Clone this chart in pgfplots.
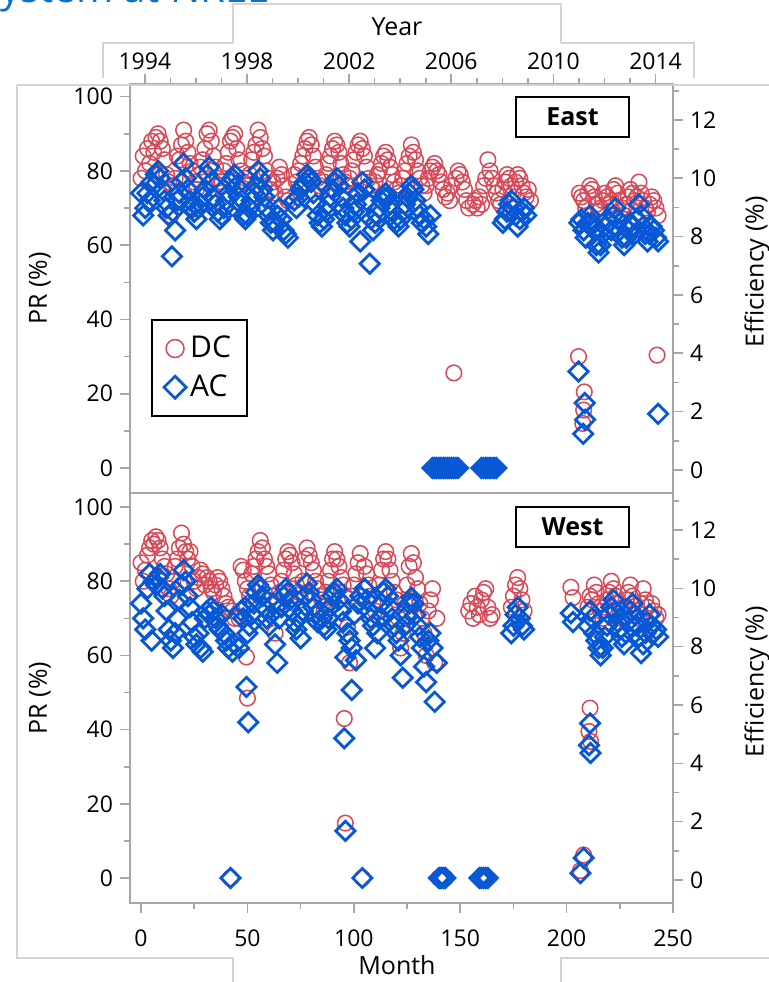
\documentclass[border=0pt]{standalone}
\usepackage{fontspec}
\setmainfont{Open Sans}
\usepackage{pgfplots}
\pgfplotsset{compat=1.18}
\definecolor{dccol}{RGB}{217,72,86}
\definecolor{accol}{RGB}{8,88,214}
\definecolor{framecol}{RGB}{166,166,166}
\definecolor{boxcol}{RGB}{212,212,212}
\definecolor{titlecol}{RGB}{16,114,196}
\pgfplotsset{
  base/.style={
    scale only axis, width=271.5pt,
    xmin=-5.2, xmax=250,
    axis line style={draw=framecol, line width=1pt},
    tick align=outside,
    major tick length=5pt, minor tick length=3pt,
    tick style={draw=framecol, line width=0.8pt},
    /pgf/number format/assume math mode=true,
    tick label style={font=\fontsize{11.5}{13}\selectfont},
    label style={font=\fontsize{12.5}{15}\selectfont},
  },
  praxis/.style={base,
    ytick={0,20,...,100}, minor ytick={10,30,...,90},
    ytick pos=left,
    ylabel={PR (\%)},
    ylabel style={at={(axis description cs:-0.166,0.5)}, anchor=center},
  },
  effaxis/.style={base,
    axis y line*=right,
    ytick={0,2,...,12}, minor ytick={1,3,...,13},
    ylabel={Efficiency (\%)},
    ylabel style={at={(axis description cs:1.155,0.54)}, anchor=center},
  },
  dc/.style={only marks, mark=o, mark size=3.9pt, mark options={draw=dccol, line width=0.75pt}},
  ac/.style={only marks, mark=square, mark size=3.4pt, mark options={draw=accol, line width=1.4pt, rotate=45}},
}
\begin{document}
\begin{tikzpicture}
\path[use as bounding box] (0,0) rectangle (384.5pt,491pt);
% title (cut off at top, as in the reference)
\node[anchor=base west, inner sep=0pt, text=titlecol, font=\fontsize{20}{24}\selectfont] at (-11pt,489.5pt) {System at NREL};
% ---------------- TOP PANEL (East) ----------------
\begin{axis}[praxis, at={(65pt,244.5pt)}, anchor=south west, height=204.5pt,
  ymin=-6.73, ymax=103.4, xtick=\empty,
  legend style={at={(rel axis cs:0.0387,0.425)}, anchor=north west, draw=black, line width=1pt,
    font=\fontsize{15}{17}\selectfont, inner xsep=6pt, inner ysep=6pt, row sep=3pt},
  legend image post style={scale=1.15},
  legend cell align=left]
\addplot[dc] coordinates {
(0,78)(1,84)(2,80)(3,86)(4,82)(5,88)(6,85)(7,89)(8,90)(9,88)(10,86)(11,83)(12,79)(13,77)(14,68)(15,76)(16,78)(17,84)(18,83)(19,87)(20,91)(21,88)(22,85)(23,82)(24,80)(25,77)(26,75)(27,79)(28,81)(29,83)(30,86)(31,90)(32,91)(33,88)(34,84)(35,81)(36,78)(37,76)(38,77)(39,80)(40,82)(41,85)(42,88)(43,89)(44,90)(45,86)(46,83)(47,80)(48,77)(49,78)(50,76)(51,79)(52,83)(53,85)(54,87)(55,91)(56,89)(57,86)(58,84)(59,80)(60,78)(61,75)(62,77)(63,74)(64,78)(65,81)(66,79)(67,76)(68,73)(69,72)
(72,79)(73,77)(74,80)(75,82)(76,84)(77,86)(78,88)(79,89)(80,87)(81,84)(82,81)(83,78)(84,76)(85,75)(86,77)(87,79)(88,82)(89,84)(90,86)(91,88)(92,87)(93,85)(94,82)(95,79)(96,77)(97,76)(98,78)(99,80)(100,83)(101,85)(102,87)(103,88)(104,86)(105,84)(106,81)(107,78)(108,76)(109,75)(110,77)(111,79)(112,80)(113,82)(114,84)(115,85)(116,83)(117,81)(118,79)(119,77)(120,75)(121,74)(122,76)(123,78)(124,80)(125,82)(126,84)(127,87)(128,85)(129,83)(130,80)(131,78)(132,76)(133,74)(134,76)(135,78)(136,80)(137,81)(138,82)(139,80)(140,79)(141,77)(142,75)(143,73)(144,74)(145,72)(146,76)(147,25.6)(148,78)(149,80)(150,79)(151,77)(152,75)(153,72)(154,70)
(156,71)(157,72)(158,70)(159,73)(160,71)(161,76)(162,78)(163,83)(164,80)(165,78)(166,76)(167,74)(168,72)(169,71)(170,75)(171,77)(172,79)(173,78)(174,76)(175,74)(176,77)(177,79)(178,78)(179,76)(180,74)(181,73)(182,75)(183,72)
(205.6,30)(208.3,20.5)(208,15.6)(207.6,12)
(206,74)(207,73)(208,72)(209,70)(210,74)(211,76)(212,75)(213,73)(214,71)(215,69)(216,70)(217,72)(218,74)(219,73)(220,71)(221,72)(222,75)(223,76)(224,74)(225,72)(226,70)(227,68)(228,71)(229,73)(230,75)(231,74)(232,72)(233,73)(234,77)(235,74)(236,72)(237,70)(238,69)(239,71)(240,73)(241,72)(242,70)(243,68)(242.5,30.4)
};
\addlegendentry{DC}
\addplot[ac] coordinates {
(0,74)(1,68)(2,70)(3,74)(4,72)(5,77)(6,76)(7,79)(8,80)(9,78)(10,75)(11,72)(12,70)(13,68)(14.5,57)(15,69)(16,64)(17,72)(18,74)(19,77)(20,82)(21,78)(22,75)(23,72)(24,70)(25,69)(26,67)(27,70)(28,71)(29,73)(30,75)(31,79)(32,81)(33,77)(34,73)(35,71)(36,69)(37,67)(38,68)(39,70)(40,72)(41,74)(42,77)(43,78)(44,79)(45,76)(46,73)(47,71)(48,68)(49,67)(50,68)(51,70)(52,72)(53,74)(54,76)(55,80)(56,78)(57,75)(58,73)(59,70)(60,68)(61,66)(62,64)(63,66)(64,68)(65,70)(66,67)(67,64)(68,63)(69,62)
(72,72)(73,70)(74,73)(75,75)(76,76)(77,77)(78,79)(79,78)(80,77)(81,74)(82,71)(83,68)(84,66)(85,65)(86,67)(87,69)(88,71)(89,73)(90,75)(91,77)(92,78)(93,76)(94,73)(95,70)(96,68)(97,66)(98,65)(99,67)(100,69)(101,71)(102,74)(103,61)(104,77)(105,75)(106,72)(107.5,55)(108,67)(109,64)(110,66)(111,68)(112,70)(113,72)(114,73)(115,74)(116,73)(117,71)(118,69)(119,67)(120,66)(121,65)(122,67)(123,69)(124,71)(125,73)(126,74)(127,76)(128,75)(129,72)(130,70)(131,68)(132,66)(133,67)(134,65)(135,63)(136,68)
(137,0)(138,0)(139,0)(140,0)(141,0)(142,0)(143,0)(144,0)(145,0)(146,0)(147,0)(148,0)(149,0)
(160,0)(161,0)(162,0)(163,0)(164,0)(165,0)(166,0)(167,0)
(170,66)(171,67)(172,69)(173,71)(174,72)(175,70)(176,68)(177,65)(178,67)(179,69)(180,70)(181,68)
(205.6,26)(208.5,17.5)(208.7,13)(207.8,9.2)
(206,66)(207,67)(208,64)(209,62)(210,66)(211,68)(212,66)(213,64)(214,60)(215,58)(216,60)(217,63)(218,65)(219,67)(220,66)(221,64)(222,68)(223,70)(224,67)(225,64)(226,62)(227,60)(228,62)(229,64)(230,66)(231,65)(232,63)(233,67)(234,71)(235,68)(236,65)(237,63)(238,61)(239,63)(240,65)(241,64)(242,62)(243,61)(243,14.6)
};
\addlegendentry{AC}
\node[draw=black, line width=1.2pt, minimum width=56.5pt, minimum height=20pt, inner sep=0pt,
  font=\bfseries\fontsize{12.5}{14}\selectfont] at (rel axis cs:0.815,0.919) {East};
\end{axis}
\begin{axis}[effaxis, at={(65pt,244.5pt)}, anchor=south west, height=204.5pt,
  ymin=-0.79, ymax=13.23,
  axis x line*=top,
  xtick={1.8,49.8,97.8,145.8,193.8,241.8},
  xticklabels={1994,1998,2002,2006,2010,2014},
  minor xtick={1.8,13.8,...,241.8},
  xticklabel style={yshift=-1.5pt},
  xlabel={Year},
  xlabel style={at={(axis description cs:0.4917,1)}, anchor=center, yshift=28.5pt}]
\addplot[draw=none] coordinates {(0,0)};
\end{axis}
% ---------------- BOTTOM PANEL (West) ----------------
\begin{axis}[praxis, at={(65pt,39.5pt)}, anchor=south west, height=205pt,
  ymin=-6.74, ymax=103.8,
  xtick={0,50,...,250}, minor xtick={25,75,...,225}, xtick pos=bottom,
  xticklabel style={yshift=-5pt},
  xlabel={Month},
  xlabel style={at={(axis description cs:0.4917,0)}, anchor=center, yshift=-31pt}]
\addplot[dc] coordinates {
(0,85)(1,80)(2,83)(3,87)(4,89)(5,91)(6,90)(7,92)(8,91)(9,89)(10,86)(11,84)(12,82)(13,78)(14,76)(15,80)(16,84)(17,86)(18,89)(19,93)(20,90)(21,88)(22,86)(23,88)(24,84)(25,80)(26,78)(27,81)(28,83)(29,82)(30,79)(31,81)(32,80)(33,78)(34,77)(35,79)(36,81)(37,80)(38,78)(39,76)(40,74)(41,73)(42,0)(43,72)(44,70)
(46,70)(47,84)(48,83)(49,80)(50,78)(51,76)(52,82)(53,84)(54,86)(55,88)(56,91)(57,89)(58,86)(59,84)(60,82)(61,79)(62,76)(63,66)(64,74)(65,77)(66,80)(67,83)(68,86)(69,88)(70,87)(71,85)(72,82)(73,79)(74,77)(75,75)(76,80)(77,86)(78,89)(79,87)(80,85)(81,83)(82,80)(83,78)(84,76)(85,75)(86,72)(87,77)(88,80)(89,83)(90,86)(91,88)(92,86)(93,84)(94,81)(95,79)(96,76)(97,67.6)(98,58)(99,76)(100,79)(101,82)(102,85)(103,87.5)(104,0)(105,84)(106,82)(107,79)(108,76)(109,74)(110,72)(111,75)(112,79)(113,83)(114,86)(115,88)(116,86)(117,83)(118,80)(119,77)(120,75)(121,70)(122,62)(123,66)(124,74)(125,79)(126,84)(127,87.5)(128,85)(129,81)(130,78)(131,74)(132,70)(133,66)(134,60)(135,72)(136,75)(137,78)(138,58)(139,70)
(49.5,59.6)(50,48.5)(95.5,43)(96,14.8)
(140,0)(141,0)(142,0)(143,0)
(154,72)(155,74)(156,70)(157,76)(158,73)(159,71)(160,75)(161,77)(162,78)(163,73)(164,70)(165,71)
(174,73)(175,76)(176,79)(177,81)(178,78)(179,75)(180,72)
(202,78.4)(203,75.6)(206.5,2)(208,6.2)(211,45.8)(210.5,39.5)(211.3,36.8)
(210,73)(211,76)(212,75)(213,79)(214,77)(215,74)(216,72)(217,70)(218,73)(219,75)(220,77)(221,80)(222,78)(223,76)(224,74)(225,72)(226,70)(227,73)(228,75)(229,77)(230,79)(231,76)(232,74)(233,72)(234,70)(235,74)(236,78)(237,75)(238,73)(239,71)(240,74)(241,72)(242,70)(243,71)
};
\addplot[ac] coordinates {
(0,74)(1,70)(2,67)(3,78)(4,82)(5,64)(6,80)(7,79)(8,81)(9,82)(10,78)(11,76)(12,72)(13,67)(14,64)(15,62)(16,66)(17,70)(18,75)(19,79)(20,83)(21,80)(22,76)(23,73)(24,69)(25,65)(26,63)(27,66)(28,62)(29,61)(30,70)(31,72)(32,71)(33,73)(34,72)(35,70)(36,68)(37,67)(38,71)(39,66)(40,64)(41,62)(42,0)(43,61)(44,63)
(46,62)(47,72)(48,70)(49,73)(50,66)(51,68)(52,71)(53,74)(54,77)(55,79)(56,78)(57,76)(58,73)(59,70)(60,68)(61,71)(62,74)(63,63)(64,58)(65,70)(66,73)(67,76)(68,78)(69,77)(70,75)(71,72)(72,69)(73,67)(74,70)(75,64.6)(76,72)(77,76)(78,79.4)(79,77)(80,75)(81,73)(82,71)(83,69)(84,72)(85,70)(86,68)(87,67)(88,70)(89,73)(90,76)(91,77)(92,78)(93,75)(94,72)(95,69)(96,59.5)(97,66)(98,64)(99,62)(100,71)(101,58.7)(102,74)(103,76)(104,0)(105,78)(106,75)(107,72)(108,70)(109,68)(110,62)(111,66)(112,70)(113,74)(114,77)(115,78)(116,76)(117,73)(118,70)(119,68)(120,66)(121,64)(122,60)(123,54)(124,68)(125,71)(126,74)(127,75.6)(128,74)(129,71)(130,68)(131,65)(132,62)(133,57)(134,52.8)(135,64)(136,66)(137,62)(138,47.5)(139,58)
(49.5,51.5)(50.4,42)(95.5,37.7)(96,12.7)(99,50.7)
(140,0)(141,0)(142,0)(143,0)
(159,0)(160,0)(161,0)(162,0)(163,0)
(174,66)(175,68)(176,71)(177,73)(178,70)(179,68)(180,67)
(202,71.4)(203,69)(206.5,1.3)(208,5.4)(211,41.7)(210.5,35.8)(211.2,33.7)
(210,68)(211,72)(212,70)(213,66)(214,64)(215,62)(216,60)(217,62)(218,65)(219,68)(220,71)(221,73)(222,75)(223,72)(224,69)(225,67)(226,65)(227,63)(228,66)(229,69)(230,72)(231,74)(232,71)(233,68)(234,65)(235,60.6)(236,63)(237,66)(238,69)(239,71)(240,68)(241,66)(242,67)(243,65)
};
\node[draw=black, line width=1.2pt, minimum width=56.5pt, minimum height=20pt, inner sep=0pt,
  font=\bfseries\fontsize{12.5}{14}\selectfont] at (rel axis cs:0.815,0.917) {West};
\end{axis}
\begin{axis}[effaxis, at={(65pt,39.5pt)}, anchor=south west, height=205pt,
  ymin=-0.79, ymax=13.27, axis x line=none]
\addplot[draw=none] coordinates {(0,0)};
\end{axis}
% ---------------- decorations (grey frames) ----------------
\begin{scope}[draw=boxcol, line width=0.6pt]
\draw (116.5pt,469.5pt) -- (116.5pt,489pt) -- (280.5pt,489pt) -- (280.5pt,469.5pt);
\draw (51.5pt,452pt) -- (51.5pt,469.5pt) -- (116.5pt,469.5pt);
\draw (280.5pt,469.5pt) -- (347pt,469.5pt) -- (347pt,452pt);
\draw (8.5pt,448.5pt) -- (384.5pt,448.5pt);
\draw (8.5pt,448.5pt) -- (8.5pt,12pt) -- (116.5pt,12pt) -- (116.5pt,0pt);
\draw (384.5pt,12pt) -- (280.5pt,12pt) -- (280.5pt,0pt);
\end{scope}
\end{tikzpicture}
\end{document}
